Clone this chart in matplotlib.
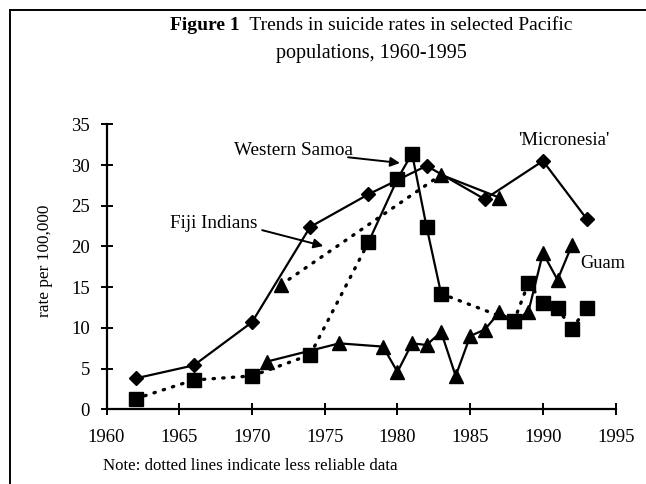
import matplotlib
matplotlib.use("Agg")
import matplotlib.pyplot as plt
from matplotlib.lines import Line2D

plt.rcParams['font.family'] = ['Liberation Serif', 'DejaVu Serif']

# ---- data ----
micro_years = [1962, 1966, 1970, 1974, 1978, 1982, 1986, 1990, 1993]
micro_rates = [3.8, 5.4, 10.7, 22.4, 26.4, 29.9, 25.8, 30.5, 23.4]
micro_dotted = [False] * 8

ws_years = [1962, 1966, 1970, 1974, 1978, 1980, 1981, 1982, 1983, 1988, 1989, 1990, 1991, 1992, 1993]
ws_rates = [1.3, 3.6, 4.1, 6.7, 20.5, 28.3, 31.4, 22.4, 14.2, 10.8, 15.5, 13.1, 12.4, 9.9, 12.4]
ws_dotted = [True, True, True, True, False, False, False, False, True, True, True, True, True, True]

fiji_years = [1972, 1983, 1987]
fiji_rates = [15.3, 28.8, 26.0]
fiji_dotted = [True, False]

guam_years = [1971, 1976, 1979, 1980, 1981, 1982, 1983, 1984, 1985, 1986, 1987, 1988, 1989, 1990, 1991, 1992]
guam_rates = [5.85, 8.1, 7.7, 4.6, 8.1, 7.9, 9.5, 4.1, 9.0, 9.8, 11.9, 10.8, 12.0, 19.2, 15.9, 20.2]
guam_dotted = [False] * 15

x_ticks = [1960, 1965, 1970, 1975, 1980, 1985, 1990, 1995]
y_ticks = [0, 5, 10, 15, 20, 25, 30, 35]

title_bold = "Figure 1"
title_rest = "  Trends in suicide rates in selected Pacific"
title_line2 = "populations, 1960-1995"
y_label = "rate per 100,000"
note = "Note: dotted lines indicate less reliable data"

# ---- figure ----
fig = plt.figure(figsize=(6.46, 4.84), dpi=100)
ax = fig.add_axes([0.1649, 0.1543, 0.7882, 0.5889])

def draw_series(years, rates, dotted, marker, ms):
    for i in range(len(years) - 1):
        if dotted[i]:
            ax.plot(years[i:i + 2], rates[i:i + 2], color='black', lw=2.4,
                    linestyle=(0, (0.4, 2.5)), dash_capstyle='round', zorder=2)
        else:
            ax.plot(years[i:i + 2], rates[i:i + 2], color='black', lw=1.6,
                    linestyle='-', zorder=2)
    ax.plot(years, rates, linestyle='none', marker=marker, ms=ms,
            color='black', zorder=3, clip_on=False)

draw_series(micro_years, micro_rates, micro_dotted, 'D', 7)
draw_series(ws_years, ws_rates, ws_dotted, 's', 9.5)
draw_series(fiji_years, fiji_rates, fiji_dotted, '^', 9.5)
draw_series(guam_years, guam_rates, guam_dotted, '^', 9.5)

ax.set_xlim(1960, 1995)
ax.set_ylim(0, 35)
ax.set_xticks(x_ticks)
ax.set_yticks(y_ticks)
ax.set_xticklabels([str(v) for v in x_ticks])
ax.set_yticklabels([str(v) for v in y_ticks])
for s in ['top', 'right']:
    ax.spines[s].set_visible(False)
for s in ['left', 'bottom']:
    ax.spines[s].set_linewidth(1.6)
ax.tick_params(axis='both', direction='inout', length=8, width=1.4,
               labelsize=13.5, colors='black')
ax.tick_params(axis='x', pad=10)
ax.tick_params(axis='y', pad=8)

# annotations
arrow = dict(arrowstyle='-|>', lw=1.4, color='black', mutation_scale=14,
             shrinkA=0, shrinkB=0)
ax.text(1972.85, 31.84, "Western Samoa", ha='center', va='center', fontsize=13.8)
ax.annotate('', xy=(1980.17, 30.25), xytext=(1976.6, 30.95), arrowprops=arrow)
ax.text(1967.34, 22.84, "Fiji Indians", ha='center', va='center', fontsize=13.8)
ax.annotate('', xy=(1974.9, 20.05), xytext=(1970.7, 22.0), arrowprops=arrow)
ax.text(1991.46, 33.07, "'Micronesia'", ha='center', va='center', fontsize=13.5)
ax.text(1994.08, 17.93, "Guam", ha='center', va='center', fontsize=13.2)

# title (bold part + regular part on one line)
t1 = fig.text(170 / 646, 1 - 30 / 484, title_bold, ha='left', va='baseline',
              fontsize=14, fontweight='bold')
ax.annotate(title_rest, xy=(1, 0), xycoords=t1, xytext=(0, 0),
            textcoords='offset points', ha='left', va='bottom', fontsize=14,
            annotation_clip=False)
fig.text(371 / 646, 1 - 58 / 484, title_line2, ha='center', va='baseline', fontsize=14.5)

fig.text(45 / 646, 1 - 261 / 484, y_label, ha='center', va='center',
         rotation=90, fontsize=12.4)
fig.text(103 / 646, 1 - 466 / 484, note, ha='left', va='center', fontsize=12.2)

# frame lines
fig.add_artist(Line2D([10 / 646, 1.0], [1 - 10 / 484, 1 - 10 / 484],
                      transform=fig.transFigure, color='black', lw=1.4))
fig.add_artist(Line2D([10 / 646, 10 / 646], [0, 1 - 10 / 484],
                      transform=fig.transFigure, color='black', lw=1.4))

fig.savefig("out.png", dpi=100)
